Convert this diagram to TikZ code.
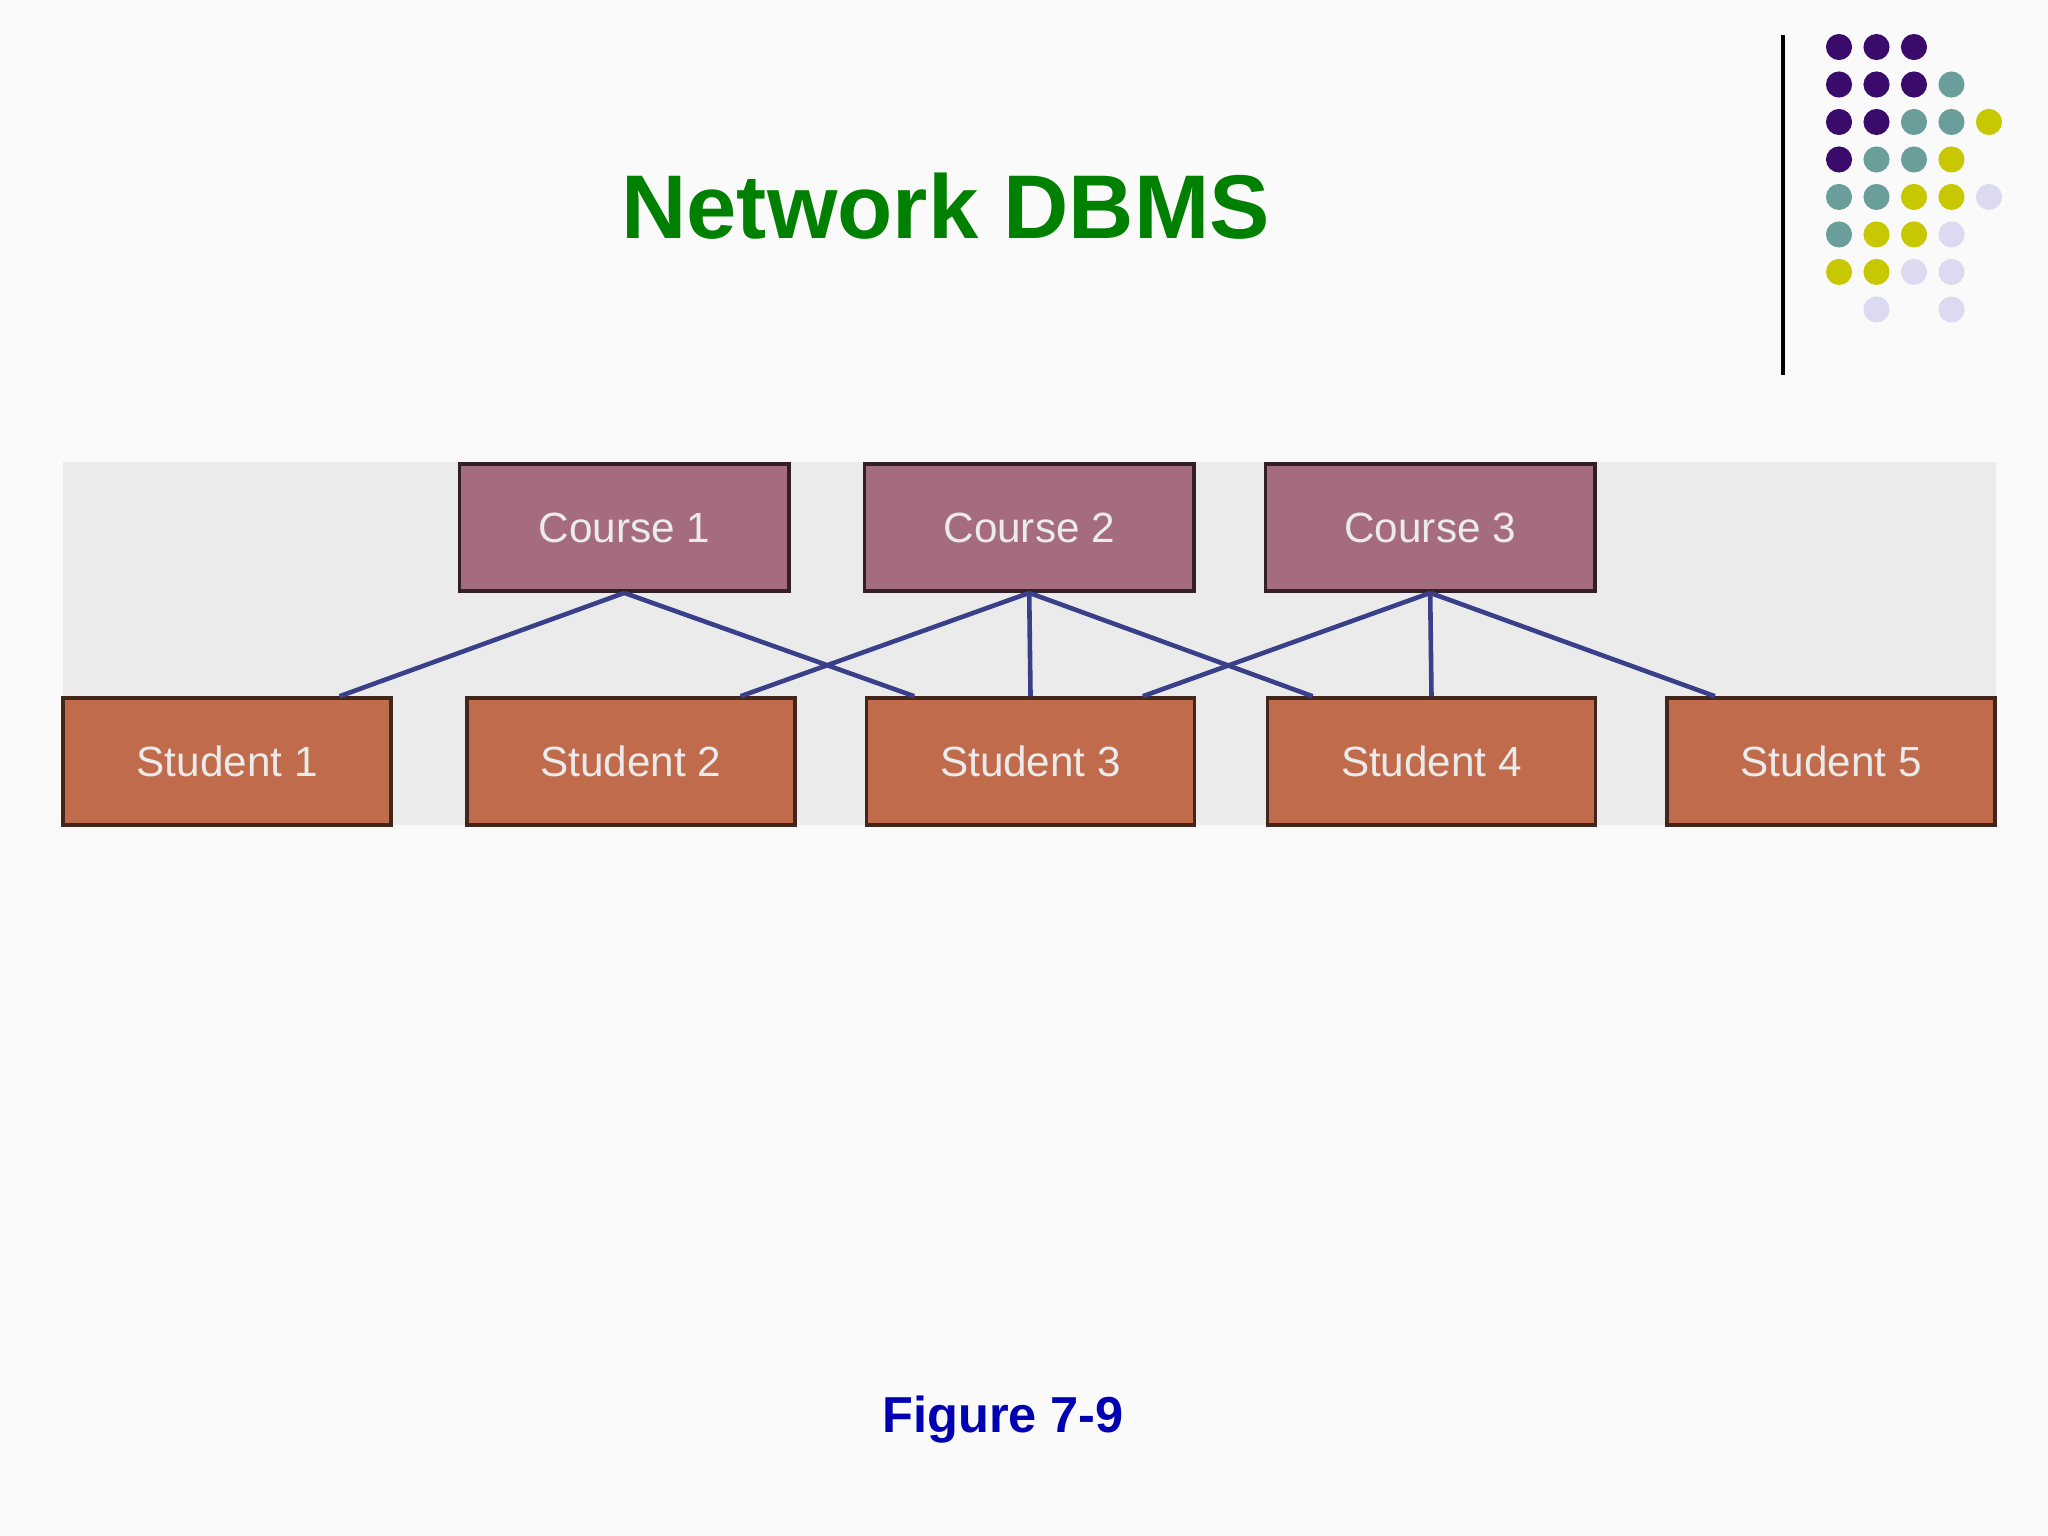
\documentclass[tikz,border=0pt]{standalone}
\usepackage{fontspec}
\setmainfont{Liberation Sans}
\usetikzlibrary{calc}
\definecolor{dpurple}{RGB}{59,11,107}
\definecolor{dteal}{RGB}{106,158,154}
\definecolor{dyellow}{RGB}{200,200,0}
\definecolor{dlav}{RGB}{220,218,240}
\definecolor{coursec}{RGB}{164,108,126}
\definecolor{studentc}{RGB}{192,108,76}
\definecolor{linkc}{RGB}{58,63,138}
\tikzset{
	course/.style={draw=black!70!coursec, line width=0.8pt, fill=coursec, minimum width=2.52cm, minimum height=0.97cm, text=white!92!black, font=\fontsize{9.2}{10}\selectfont},
	student/.style={course, draw=black!65!studentc, fill=studentc, minimum width=2.51cm},
	link/.style={linkc, line width=1pt},
}
\begin{document}
\begin{tikzpicture}[x=0.01cm, y=-0.01cm]
		\useasboundingbox (0,0) rectangle (1568,1176);
		\fill[white!98!black] (0,0) rectangle (1568,1176);
		
		% dots
		\foreach \r/\row in {0/{dpurple,dpurple,dpurple}, 1/{dpurple,dpurple,dpurple,dteal}, 2/{dpurple,dpurple,dteal,dteal,dyellow}, 3/{dpurple,dteal,dteal,dyellow}, 4/{dteal,dteal,dyellow,dyellow,dlav}, 5/{dteal,dyellow,dyellow,dlav}, 6/{dyellow,dyellow,dlav,dlav}, 7/{none,dlav,none,dlav}}{
			\foreach \c [count=\i from 0] in \row {
				\path[fill=\c] (1408+28.7*\i, 36+28.7*\r) circle (10);
			}
		}
		\draw[black, line width=1pt] (1365,27) -- (1365,287);
		
		\node[text=green!50!black, font=\fontsize{19.7}{24}\bfseries\selectfont] (title) at (724,158) {Network DBMS};
		
		\fill[black!8] (48,354) rectangle (1528,632);
		
		\node[course] (c1) at (478,404) {Course 1};
		\node[course] (c2) at (788,404) {Course 2};
		\node[course] (c3) at (1095,404) {Course 3};
		
		\node[student] (s1) at (174,583) {Student 1};
		\node[student] (s2) at (483,583) {Student 2};
		\node[student] (s3) at (789,583) {Student 3};
		\node[student] (s4) at (1096,583) {Student 4};
		\node[student] (s5) at (1402,583) {Student 5};
		
		\draw[link] (c1.south) -- ($(s1.north)+(86,0)$);
		\draw[link] (c1.south) -- ($(s3.north)+(-89,0)$);
		\draw[link] (c2.south) -- ($(s2.north)+(84,0)$);
		\draw[link] (c2.south) -- (s3.north);
		\draw[link] (c2.south) -- ($(s4.north)+(-91,0)$);
		\draw[link] (c3.south) -- ($(s3.north)+(86,0)$);
		\draw[link] (c3.south) -- (s4.north);
		\draw[link] (c3.south) -- ($(s5.north)+(-89,0)$);
		
		\node[text=blue!70!black, font=\fontsize{11}{13}\bfseries\selectfont] (fig) at (768,1087) {Figure 7-9};
		
	\end{tikzpicture}
\end{document}
